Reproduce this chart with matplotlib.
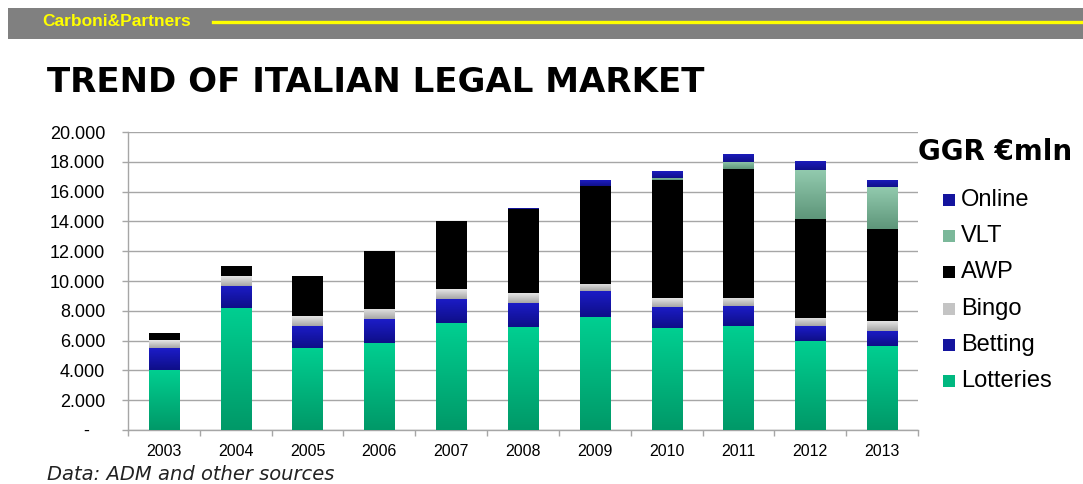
import numpy as np
import matplotlib
matplotlib.use('Agg')
import matplotlib.pyplot as plt
from matplotlib.patches import Rectangle
from matplotlib.ticker import FuncFormatter, FixedLocator
from matplotlib.colors import to_rgb

years = ['2003', '2004', '2005', '2006', '2007', '2008', '2009', '2010', '2011', '2012', '2013']

# GGR in million euro
lotteries = [4050, 8210, 5520, 5840, 7160, 6890, 7580, 6820, 7000, 5970, 5640]
betting = [1470, 1480, 1480, 1590, 1630, 1630, 1770, 1440, 1300, 990, 1030]
bingo = [520, 670, 650, 710, 670, 670, 470, 580, 540, 560, 650]
awp = [450, 640, 2710, 3850, 4540, 5620, 6580, 7960, 8660, 6660, 6190]
vlt = [0, 0, 0, 0, 0, 0, 0, 140, 500, 3250, 2780]
online = [0, 0, 0, 0, 0, 70, 360, 440, 550, 640, 510]

SERIES = [
    ('Lotteries', lotteries),
    ('Betting', betting),
    ('Bingo', bingo),
    ('AWP', awp),
    ('VLT', vlt),
    ('Online', online),
]

# (top colour, bottom colour) for the vertical gradient
GRADIENTS = {
    'Lotteries': ('#00cf91', '#009968'),
    'Betting': ('#1c1cc8', '#0e0e88'),
    'Bingo': ('#e6e6e6', '#a6a6a6'),
    'AWP': ('#000000', '#000000'),
    'VLT': ('#92caae', '#5e967a'),
    'Online': ('#1c1cc0', '#10108a'),
}

LEGEND_COLORS = {
    'Online': '#14149e',
    'VLT': '#7bb89a',
    'AWP': '#000000',
    'Bingo': '#c4c4c4',
    'Betting': '#14149e',
    'Lotteries': '#00b880',
}

BAR_WIDTH = 0.42
GRID_COLOR = '#a6a6a6'


def gradient_bar(ax, x, bottom, height, top_c, bot_c):
    if height <= 0:
        return
    x0 = x - BAR_WIDTH / 2
    rect = Rectangle((x0, bottom), BAR_WIDTH, height, facecolor='none',
                     edgecolor='none', zorder=3)
    ax.add_patch(rect)
    t = np.array(to_rgb(top_c))
    b = np.array(to_rgb(bot_c))
    n = 64
    frac = np.linspace(0, 1, n)[:, None]
    img = (t * (1 - frac) + b * frac)[:, None, :]
    im = ax.imshow(img, extent=(x0, x0 + BAR_WIDTH, bottom, bottom + height),
                   aspect='auto', origin='upper', zorder=3, interpolation='bilinear')
    im.set_clip_path(rect)


def main():
    fig = plt.figure(figsize=(10.83, 4.84), dpi=100)

    # header band
    fig.patches.append(Rectangle((8 / 1083, 1 - 39 / 484), 1 - 8 / 1083, 31 / 484,
                                 transform=fig.transFigure, facecolor='#808080',
                                 edgecolor='none', zorder=0))
    fig.add_artist(plt.Line2D([213 / 1083, 1.0], [1 - 22 / 484, 1 - 22 / 484],
                              transform=fig.transFigure, color='#ffff00', linewidth=2.4))
    fig.text(42 / 1083, 1 - 22 / 484, 'Carboni&Partners', color='#ffff00',
             fontsize=12.5, weight='bold', va='center', ha='left',
             family=['Liberation Sans Narrow', 'Liberation Sans', 'DejaVu Sans'])

    fig.text(47 / 1083, 1 - 83 / 484, 'TREND OF ITALIAN LEGAL MARKET',
             fontsize=24.5, weight='bold', va='center', ha='left', family='DejaVu Sans')

    fig.text(47 / 1083, 1 - 474 / 484, 'Data: ADM and other sources',
             fontsize=14, style='italic', va='center', ha='left', family='DejaVu Sans',
             color='#222222')

    ax = fig.add_axes([128 / 1083, 54 / 484, 790 / 1083, 298 / 484])

    x = np.arange(len(years))
    bottom = np.zeros(len(years))
    for name, vals in SERIES:
        vals = np.asarray(vals, dtype=float)
        top_c, bot_c = GRADIENTS[name]
        for xi, b0, h in zip(x, bottom, vals):
            gradient_bar(ax, xi, b0, h, top_c, bot_c)
        bottom += vals

    ax.set_xlim(-0.5, len(years) - 0.5)
    ax.set_ylim(0, 20000)
    ax.set_yticks(np.arange(0, 20001, 2000))
    ax.yaxis.set_major_formatter(FuncFormatter(
        lambda v, p: '-   ' if v == 0 else '{:,.0f}'.format(v).replace(',', '.')))
    ax.grid(axis='y', color=GRID_COLOR, linewidth=1.0, zorder=0)
    ax.set_axisbelow(True)

    ax.set_xticks(x)
    ax.set_xticklabels(years)
    ax.xaxis.set_minor_locator(FixedLocator(np.arange(-0.5, len(years), 1.0)))
    ax.tick_params(axis='x', which='major', length=0, pad=10, labelsize=11.5)
    ax.tick_params(axis='x', which='minor', length=4, color=GRID_COLOR, width=1)
    ax.tick_params(axis='y', length=4.5, color=GRID_COLOR, width=1, labelsize=13, pad=12)
    for label in ax.get_xticklabels() + ax.get_yticklabels():
        label.set_family(['Liberation Sans', 'DejaVu Sans'])

    for side in ('top', 'right'):
        ax.spines[side].set_visible(False)
    for side in ('left', 'bottom'):
        ax.spines[side].set_color(GRID_COLOR)
        ax.spines[side].set_linewidth(1.0)

    # legend
    fig.text(918 / 1083, 1 - 152 / 484, 'GGR €mln', fontsize=20, weight='bold',
             va='center', ha='left', family='DejaVu Sans')
    legend_order = ['Online', 'VLT', 'AWP', 'Bingo', 'Betting', 'Lotteries']
    for i, name in enumerate(legend_order):
        yc = 200 + i * 36.2
        fig.patches.append(Rectangle((943 / 1083, 1 - (yc + 6) / 484), 12 / 1083, 12 / 484,
                                     transform=fig.transFigure,
                                     facecolor=LEGEND_COLORS[name], edgecolor='none'))
        fig.text(961 / 1083, 1 - yc / 484, name, fontsize=17, va='center', ha='left',
                 family=['Liberation Sans', 'DejaVu Sans'])

    fig.savefig('out.png', dpi=100)


if __name__ == '__main__':
    main()
